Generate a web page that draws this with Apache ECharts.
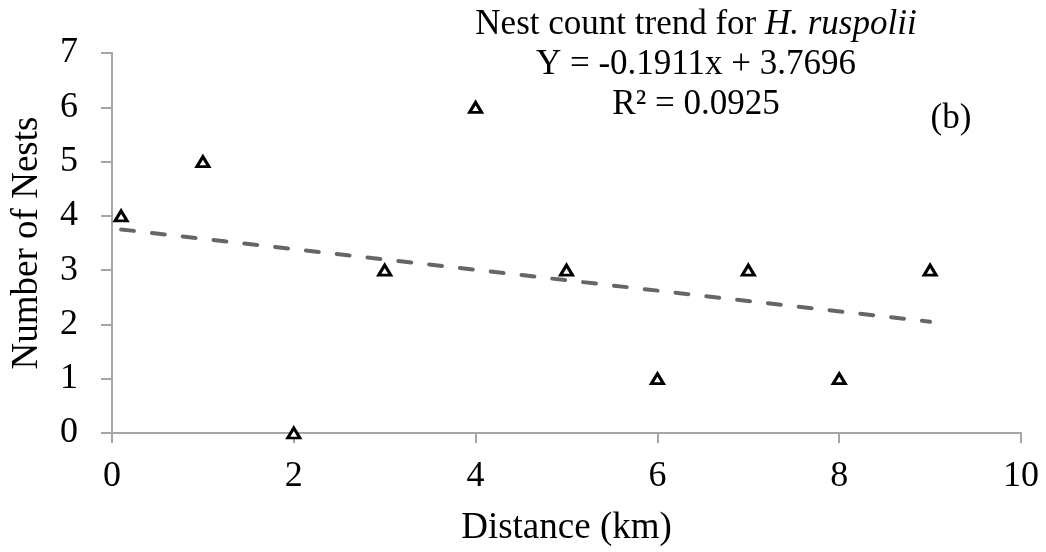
<!DOCTYPE html>
<html>
<head>
<meta charset="utf-8">
<script src="https://cdn.jsdelivr.net/npm/echarts@6/dist/echarts.min.js"></script>
<style>
  html, body { margin: 0; padding: 0; background: #fff; }
  #chart { width: 1046px; height: 552px; }
</style>
</head>
<body>
<div id="chart"></div>
<script>
// distance (km) and nest counts
const distances = [0.1, 1, 2, 3, 4, 5, 6, 7, 8, 9];
const nestCounts = [4, 5, 0, 3, 6, 3, 1, 3, 1, 3];

// trend line, as printed on the chart
const slope = -0.1911;
const intercept = 3.7696;
const rSquared = '0.0925';
const trendRange = [0.1, 9];

const xTicks = { min: 0, max: 10, interval: 2 };
const yTicks = { min: 0, max: 7, interval: 1 };

const FONT = 'Liberation Serif';
const AXIS_GRAY = '#a6a6a6';

var trendData = trendRange.map((x) => [x, slope * x + intercept]);
var pointData = distances.map((x, i) => [x, nestCounts[i]]);

var chart = echarts.init(document.getElementById('chart'));

chart.setOption({
    backgroundColor: '#fff',
    animation: false,
    textStyle: { fontFamily: FONT },
    title: {
        left: 696,
        top: 5,
        padding: 0,
        textAlign: 'center',
        text: '{n|Nest count trend for }{i|H. ruspolii}\n{n|Y = ' + slope + 'x + ' + intercept + '}\n{n|R² = ' + rSquared + '}',
        textStyle: {
            fontFamily: FONT,
            fontWeight: 'normal',
            lineHeight: 40,
            rich: {
                n: { fontFamily: FONT, fontSize: 35, color: '#000', lineHeight: 40 },
                i: { fontFamily: FONT, fontSize: 35, color: '#000', fontStyle: 'italic', lineHeight: 40 }
            }
        }
    },
    graphic: [
        {
            type: 'text',
            x: 951,
            y: 119,
            style: {
                text: '(b)',
                font: '35px "Liberation Serif"',
                fill: '#000',
                align: 'center',
                verticalAlign: 'middle'
            }
        }
    ],
    grid: {
        left: 112,
        right: 25,
        top: 53,
        bottom: 116,
        containLabel: false
    },
    xAxis: {
        type: 'value',
        min: xTicks.min,
        max: xTicks.max,
        interval: xTicks.interval,
        name: 'Distance (km)',
        nameLocation: 'middle',
        nameGap: 77,
        nameTextStyle: { fontFamily: FONT, fontSize: 37, color: '#000' },
        axisLine: { show: true, onZero: false, lineStyle: { color: AXIS_GRAY, width: 2 } },
        axisTick: { show: true, length: 10, lineStyle: { color: AXIS_GRAY, width: 2 } },
        axisLabel: { fontFamily: FONT, fontSize: 36, color: '#000', margin: 26 },
        splitLine: { show: false }
    },
    yAxis: {
        type: 'value',
        min: yTicks.min,
        max: yTicks.max,
        interval: yTicks.interval,
        name: 'Number of Nests',
        nameLocation: 'middle',
        nameGap: 66,
        nameTextStyle: { fontFamily: FONT, fontSize: 37, color: '#000' },
        axisLine: { show: true, onZero: false, lineStyle: { color: AXIS_GRAY, width: 2 } },
        axisTick: { show: true, length: 11, lineStyle: { color: AXIS_GRAY, width: 2 } },
        axisLabel: { fontFamily: FONT, fontSize: 36, color: '#000', margin: 34 },
        splitLine: { show: false }
    },
    series: [
        {
            name: 'Trend',
            type: 'line',
            data: trendData,
            symbol: 'none',
            z: 1,
            lineStyle: {
                color: '#666',
                width: 4,
                type: [13, 18],
                cap: 'round'
            }
        },
        {
            name: 'Nests',
            type: 'scatter',
            data: pointData,
            symbol: 'triangle',
            symbolSize: [12, 10],
            z: 2,
            itemStyle: {
                color: '#fff',
                borderColor: '#000',
                borderWidth: 3,
                opacity: 1
            }
        }
    ]
});
</script>
</body>
</html>
